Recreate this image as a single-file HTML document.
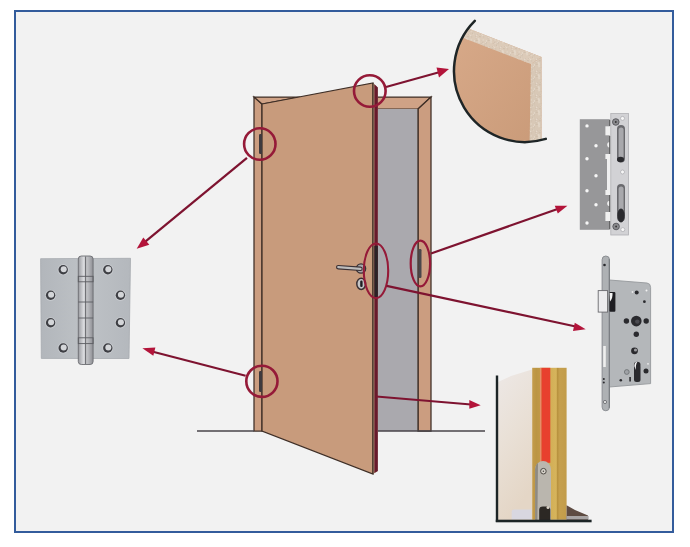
<!DOCTYPE html>
<html><head><meta charset="utf-8">
<style>
html,body{margin:0;padding:0;background:#fff;width:690px;height:547px;overflow:hidden;font-family:"Liberation Sans",sans-serif;}
svg{display:block;}
</style></head>
<body>
<svg width="690" height="547" viewBox="0 0 690 547">
<defs>
  <clipPath id="boardclip"><circle cx="525" cy="71" r="71"/></clipPath>
  <linearGradient id="boardface" x1="0" y1="0" x2="1" y2="1">
    <stop offset="0" stop-color="#d9ab8b"/>
    <stop offset="1" stop-color="#c99a78"/>
  </linearGradient>
  <linearGradient id="gold" x1="0" y1="0" x2="1" y2="0">
    <stop offset="0" stop-color="#c49c4c"/>
    <stop offset="0.12" stop-color="#bb9544"/>
    <stop offset="0.26" stop-color="#c29a48"/>
    <stop offset="0.5" stop-color="#d2ae56"/>
    <stop offset="0.7" stop-color="#d6b45c"/>
    <stop offset="0.73" stop-color="#b8923e"/>
    <stop offset="0.8" stop-color="#c6a04e"/>
    <stop offset="1" stop-color="#c29c4a"/>
  </linearGradient>
  <linearGradient id="cream" x1="0" y1="0" x2="0.3" y2="1">
    <stop offset="0" stop-color="#ede8e6"/>
    <stop offset="0.5" stop-color="#e9e0d6"/>
    <stop offset="1" stop-color="#e4d6c6"/>
  </linearGradient>
  <linearGradient id="hingeplate" x1="0" y1="0" x2="1" y2="0">
    <stop offset="0" stop-color="#b2b6bb"/>
    <stop offset="0.5" stop-color="#bec2c6"/>
    <stop offset="1" stop-color="#b4b8bd"/>
  </linearGradient>
  <linearGradient id="knuckle" x1="0" y1="0" x2="1" y2="0">
    <stop offset="0" stop-color="#9a9ba0"/>
    <stop offset="0.35" stop-color="#d8d9dc"/>
    <stop offset="0.7" stop-color="#b4b5b9"/>
    <stop offset="1" stop-color="#8e8f94"/>
  </linearGradient>
  <pattern id="speck" width="12" height="12" patternUnits="userSpaceOnUse"><circle cx="2.9" cy="6.5" r="0.67" fill="#ccbba8"/><circle cx="5.7" cy="7.0" r="0.66" fill="#d0c0ae"/><circle cx="5.6" cy="6.6" r="0.70" fill="#e8ddd0"/><circle cx="5.6" cy="10.0" r="0.46" fill="#e6dbcd"/><circle cx="10.3" cy="2.8" r="0.65" fill="#e8ddd0"/><circle cx="6.3" cy="8.9" r="0.36" fill="#d0c0ae"/><circle cx="11.5" cy="0.5" r="0.63" fill="#d0c0ae"/><circle cx="3.2" cy="7.1" r="0.59" fill="#e6dbcd"/><circle cx="11.1" cy="4.7" r="0.69" fill="#e6dbcd"/><circle cx="1.6" cy="4.4" r="0.35" fill="#d0c0ae"/><circle cx="2.6" cy="11.6" r="0.61" fill="#e6dbcd"/><circle cx="10.3" cy="5.1" r="0.53" fill="#e6dbcd"/><circle cx="6.4" cy="4.9" r="0.66" fill="#e8ddd0"/><circle cx="8.2" cy="11.1" r="0.70" fill="#ccbba8"/><circle cx="8.1" cy="2.0" r="0.69" fill="#ccbba8"/><circle cx="10.9" cy="6.8" r="0.55" fill="#e8ddd0"/><circle cx="11.9" cy="3.2" r="0.33" fill="#d0c0ae"/><circle cx="10.2" cy="11.9" r="0.44" fill="#d0c0ae"/><circle cx="0.8" cy="10.8" r="0.42" fill="#d0c0ae"/><circle cx="9.2" cy="10.5" r="0.54" fill="#d0c0ae"/><circle cx="9.1" cy="4.5" r="0.52" fill="#ccbba8"/><circle cx="11.1" cy="3.3" r="0.70" fill="#e8ddd0"/><circle cx="3.7" cy="0.9" r="0.68" fill="#d0c0ae"/><circle cx="11.7" cy="3.5" r="0.36" fill="#ccbba8"/><circle cx="0.5" cy="10.4" r="0.44" fill="#ccbba8"/><circle cx="1.7" cy="10.3" r="0.48" fill="#e6dbcd"/><circle cx="6.2" cy="7.7" r="0.55" fill="#d0c0ae"/><circle cx="11.3" cy="6.1" r="0.55" fill="#e6dbcd"/><circle cx="8.6" cy="11.2" r="0.69" fill="#e6dbcd"/><circle cx="6.3" cy="6.6" r="0.62" fill="#d0c0ae"/><circle cx="11.8" cy="3.8" r="0.55" fill="#e6dbcd"/><circle cx="7.6" cy="0.7" r="0.49" fill="#ccbba8"/><circle cx="8.2" cy="4.2" r="0.60" fill="#ccbba8"/><circle cx="0.3" cy="0.7" r="0.69" fill="#d0c0ae"/><circle cx="3.0" cy="5.5" r="0.37" fill="#ccbba8"/><circle cx="2.2" cy="9.1" r="0.42" fill="#ccbba8"/><circle cx="4.5" cy="9.3" r="0.69" fill="#d0c0ae"/><circle cx="8.2" cy="1.6" r="0.56" fill="#e8ddd0"/><circle cx="3.2" cy="3.9" r="0.56" fill="#e6dbcd"/><circle cx="1.2" cy="7.2" r="0.57" fill="#ccbba8"/></pattern>
</defs>

<!-- background + border -->
<rect x="0" y="0" width="690" height="547" fill="#ffffff"/>
<rect x="15" y="11" width="658" height="521" fill="#f2f2f2" stroke="#335c9c" stroke-width="2"/>

<!-- ===== DOOR ===== -->
<!-- frame left column -->
<polygon points="254,97 262,104 262,431 254,431" fill="#cb9d80" stroke="#3e2e26" stroke-width="1.25"/>
<!-- frame top left wedge -->
<polygon points="254,97 300,97 262,104" fill="#cfa286" stroke="#3e2e26" stroke-width="1.25"/>
<!-- frame top right -->
<polygon points="377,97 431,97 418,109 377,109" fill="#cfa286" stroke="#3e2e26" stroke-width="1.25"/>
<!-- frame right column -->
<polygon points="418,109 431,97 431,431 418,431" fill="#cb9d80" stroke="#3e2e26" stroke-width="1.25"/>
<!-- gray opening -->
<rect x="378" y="109" width="40" height="322" fill="#aaa9ae"/>
<line x1="418" y1="109" x2="418" y2="431" stroke="#3e2e26" stroke-width="1.25"/>
<!-- floor lines -->
<line x1="197" y1="431" x2="254" y2="431" stroke="#48444a" stroke-width="1.6"/>
<line x1="378" y1="431" x2="485" y2="431" stroke="#48444a" stroke-width="1.6"/>
<!-- door leaf -->
<polygon points="262,104 373,83 373,474 262,431" fill="#c89b7c" stroke="#3e2e26" stroke-width="1.25"/>
<!-- door edge thickness -->
<polygon points="373,83 377.8,87.5 377.8,471 373,474" fill="#b49478"/>
<polygon points="374.4,84.3 377.8,87.5 377.8,471 374.4,473" fill="#681a2c"/>
<line x1="373" y1="83" x2="373" y2="474" stroke="#3e2e26" stroke-width="1.1"/>
<rect x="374.4" y="246" width="3.4" height="51" fill="#2a2226"/>
<!-- hinges on door -->
<rect x="259" y="134" width="3" height="20" rx="1.2" fill="#3e3a3e"/>
<rect x="259" y="371" width="3" height="21" rx="1.2" fill="#3e3a3e"/>
<!-- strike slot on frame -->
<rect x="418.5" y="249" width="3" height="29" rx="1.2" fill="#4a474b"/>
<!-- handle -->
<circle cx="361" cy="268.5" r="4.6" fill="#a8a6aa" stroke="#3a3034" stroke-width="1.4"/>
<line x1="338.2" y1="267.2" x2="360.5" y2="268.8" stroke="#3a3034" stroke-width="4.4" stroke-linecap="round"/>
<line x1="338.2" y1="267.2" x2="360.5" y2="268.8" stroke="#bdbcbc" stroke-width="2.2" stroke-linecap="round"/>
<ellipse cx="361.2" cy="283.8" rx="4.4" ry="5.6" fill="#c4c4c6" stroke="#3a3034" stroke-width="1.5"/>
<rect x="360.2" y="280.6" width="2.4" height="6.5" rx="1.1" fill="#1e1e22"/>

<!-- ===== RED CIRCLES + ARROWS ===== -->
<g fill="none" stroke="#951a38" stroke-width="2.6">
  <circle cx="369.8" cy="91" r="15.8"/>
  <circle cx="259.8" cy="144" r="15.7"/>
  <circle cx="261.9" cy="381.3" r="15.6"/>
  <ellipse cx="376" cy="270.8" rx="12.2" ry="27.3" stroke-width="2.1"/>
  <ellipse cx="420.4" cy="263.5" rx="9.7" ry="22.9" stroke-width="2.2"/>
</g>
<g stroke="#7e1330" stroke-width="2.2" fill="none">
  <line x1="386" y1="87" x2="440" y2="72"/>
  <line x1="247" y1="157.8" x2="145" y2="241.8"/>
  <line x1="245.6" y1="375.8" x2="152" y2="351.5"/>
  <line x1="431" y1="253.5" x2="559" y2="208.5"/>
  <line x1="386.6" y1="285.8" x2="578" y2="327"/>
  <line x1="376.3" y1="396.5" x2="471" y2="404.5"/>
</g>
<g fill="#b3143a">
  <polygon points="449,69 436.5,67.5 439,77.5"/>
  <polygon points="136.7,248.7 143.3,237.4 149.3,244.8"/>
  <polygon points="142.4,348.3 155.4,347.4 153.3,355.7"/>
  <polygon points="567.4,205.7 554.8,205.7 557.8,213.5"/>
  <polygon points="585.7,329.3 574.8,322.8 573,331"/>
  <polygon points="480.7,405.2 469.3,400 469.3,408.7"/>
</g>

<!-- ===== BOARD DETAIL ===== -->
<g clip-path="url(#boardclip)">
  <polygon points="440,15 471,29.5 541.5,57 541.5,150 440,150" fill="url(#boardface)"/>
  <!-- top strip -->
  <polygon points="440,15 471,29.5 541.5,57 531,64 466,39 440,27" fill="#dccbb9"/>
  <polygon points="440,15 471,29.5 541.5,57 531,64 466,39 440,27" fill="url(#speck)"/>
  <!-- right strip -->
  <polygon points="531,64 541.5,57 541.5,150 529.5,150" fill="#d8c8b6"/>
  <polygon points="531,64 541.5,57 541.5,150 529.5,150" fill="url(#speck)"/>
</g>
<path d="M474.8,20.8 A71,71 0 0 0 545.8,138.9" fill="none" stroke="#1e2526" stroke-width="2.5" stroke-linecap="round"/>

<!-- ===== HINGE ===== -->
<polygon points="40.6,258.7 130.5,258.3 129,358.5 41.3,358.4" fill="url(#hingeplate)" stroke="#a6aaae" stroke-width="0.8"/>
<rect x="78.3" y="256" width="14.8" height="108.5" rx="3" fill="url(#knuckle)" stroke="#6c6d72" stroke-width="0.9"/>
<g stroke="#5c5d62" fill="none" stroke-width="0.9">
  <line x1="85.6" y1="256.5" x2="85.6" y2="364"/>
  <rect x="78.3" y="276.3" width="14.8" height="5.5"/>
  <rect x="78.3" y="337.8" width="14.8" height="5.8"/>
  <line x1="78.3" y1="302" x2="93.1" y2="302"/>
  <line x1="78.3" y1="318" x2="93.1" y2="318"/>
</g>
<circle cx="63.2" cy="269.7" r="5.6" fill="#c8cbcf"/>
<circle cx="63.2" cy="269.7" r="4.7" fill="#3e3f44"/>
<circle cx="63.7" cy="269.2" r="3" fill="#d4d6d9"/>
<circle cx="50.6" cy="295.3" r="5.6" fill="#c8cbcf"/>
<circle cx="50.6" cy="295.3" r="4.7" fill="#3e3f44"/>
<circle cx="51.1" cy="294.8" r="3" fill="#d4d6d9"/>
<circle cx="50.6" cy="322.8" r="5.6" fill="#c8cbcf"/>
<circle cx="50.6" cy="322.8" r="4.7" fill="#3e3f44"/>
<circle cx="51.1" cy="322.3" r="3" fill="#d4d6d9"/>
<circle cx="63.2" cy="348" r="5.6" fill="#c8cbcf"/>
<circle cx="63.2" cy="348" r="4.7" fill="#3e3f44"/>
<circle cx="63.7" cy="347.5" r="3" fill="#d4d6d9"/>
<circle cx="107.8" cy="269.7" r="5.6" fill="#c8cbcf"/>
<circle cx="107.8" cy="269.7" r="4.7" fill="#3e3f44"/>
<circle cx="108.3" cy="269.2" r="3" fill="#d4d6d9"/>
<circle cx="120.4" cy="295.3" r="5.6" fill="#c8cbcf"/>
<circle cx="120.4" cy="295.3" r="4.7" fill="#3e3f44"/>
<circle cx="120.9" cy="294.8" r="3" fill="#d4d6d9"/>
<circle cx="120.4" cy="322.8" r="5.6" fill="#c8cbcf"/>
<circle cx="120.4" cy="322.8" r="4.7" fill="#3e3f44"/>
<circle cx="120.9" cy="322.3" r="3" fill="#d4d6d9"/>
<circle cx="107.8" cy="348" r="5.6" fill="#c8cbcf"/>
<circle cx="107.8" cy="348" r="4.7" fill="#3e3f44"/>
<circle cx="108.3" cy="347.5" r="3" fill="#d4d6d9"/>

<!-- ===== STRIKE PLATE ===== -->
<rect x="579.8" y="119.2" width="30" height="110.6" fill="#979799"/>
<g fill="#f6f6f6">
  <circle cx="587" cy="125.9" r="1.7"/>
  <circle cx="596" cy="145.8" r="1.7"/>
  <circle cx="587" cy="158.8" r="1.7"/>
  <circle cx="596" cy="175.8" r="1.7"/>
  <circle cx="587" cy="190.8" r="1.7"/>
  <circle cx="596" cy="204.8" r="1.7"/>
  <circle cx="587" cy="223" r="1.7"/>
</g>
<g fill="#f0f0f0">
  <rect x="605.4" y="126.3" width="5" height="9"/>
  <circle cx="610" cy="144.7" r="2.8"/>
  <rect x="605.4" y="154" width="5" height="5"/>
  <rect x="607" y="159" width="3.5" height="33"/>
  <rect x="605.4" y="190" width="5" height="5"/>
  <circle cx="610" cy="203.5" r="2.8"/>
  <rect x="605.4" y="212" width="5" height="9"/>
</g>
<rect x="609.2" y="120" width="1.3" height="6" fill="#555"/>
<rect x="609.2" y="136" width="1.3" height="18" fill="#555"/>
<rect x="609.2" y="195" width="1.3" height="17" fill="#555"/>
<rect x="609.2" y="221" width="1.3" height="8" fill="#555"/>
<rect x="610.8" y="113.5" width="17.8" height="121.5" fill="#d2d2d5" stroke="#b0b0b4" stroke-width="0.8"/>
<rect x="617" y="125" width="8" height="37.5" rx="4" fill="#6a6a6e"/>
<rect x="618.6" y="127.5" width="5" height="31" rx="2.5" fill="#a9a9ad"/>
<ellipse cx="620.5" cy="159.5" rx="3.5" ry="2.8" fill="#2a2a2e"/>
<rect x="617" y="184" width="8" height="37.5" rx="4" fill="#6a6a6e"/>
<rect x="618.6" y="186.5" width="5" height="31" rx="2.5" fill="#a9a9ad"/>
<ellipse cx="621" cy="215.5" rx="3.6" ry="7" fill="#2a2a2e"/>
<circle cx="615.8" cy="122" r="3.3" fill="#8a8a8e" stroke="#555559" stroke-width="0.9"/>
<circle cx="615.8" cy="122" r="0.9" fill="#333"/>
<circle cx="622.5" cy="118.4" r="2" fill="#f6f6f6" stroke="#a0a0a4" stroke-width="0.6"/>
<circle cx="616.1" cy="226.5" r="3.3" fill="#8a8a8e" stroke="#555559" stroke-width="0.9"/>
<circle cx="616.1" cy="226.5" r="0.9" fill="#333"/>
<circle cx="622.8" cy="229.6" r="2" fill="#f6f6f6" stroke="#a0a0a4" stroke-width="0.6"/>
<circle cx="622.5" cy="172" r="2" fill="#f6f6f6" stroke="#a0a0a4" stroke-width="0.6"/>

<!-- ===== MORTISE LOCK ===== -->
<path d="M609.4,280 L647,283 Q650.6,283.4 650.6,287.5 L650.6,383.6 L609.4,387 Z" fill="#b4b7ba" stroke="#95989c" stroke-width="0.9"/>
<rect x="602.1" y="256" width="7.4" height="154.8" rx="3.7" fill="#aeb1b4" stroke="#85888c" stroke-width="0.9"/>
<line x1="609.2" y1="259" x2="609.2" y2="408" stroke="#74777b" stroke-width="0.9"/>
<rect x="609.4" y="292" width="6" height="19.8" rx="1" fill="#1e1e22"/>
<path d="M609.6,293 L612.5,293 Q613,298 610,301.5 Z" fill="#f4f4f4"/>
<rect x="598.2" y="290.6" width="9.4" height="21.5" fill="#ececee" stroke="#6a6a6e" stroke-width="0.9"/>
<g fill="#2a2a2e">
  <circle cx="636.7" cy="292.5" r="2"/>
  <circle cx="644.4" cy="301.7" r="1.4"/>
  <circle cx="636.3" cy="321.1" r="5.3"/>
  <circle cx="626.4" cy="321" r="2.7"/>
  <circle cx="646.2" cy="321" r="2.7"/>
  <circle cx="636.3" cy="334.3" r="2.7"/>
  <circle cx="634.5" cy="350.8" r="3.4"/>
  <circle cx="637.2" cy="365" r="3.3"/>
  <rect x="634" y="365" width="6.5" height="17" rx="2.5"/>
  <circle cx="646" cy="371" r="2.5"/>
  <circle cx="620.8" cy="380.3" r="1.3"/>
  <rect x="629.3" y="377" width="1.6" height="4.5"/>
  <circle cx="603.8" cy="379" r="1"/>
  <circle cx="603.8" cy="382.5" r="1"/>
  <circle cx="604.5" cy="265" r="1.3"/>
</g>
<circle cx="637.3" cy="321.6" r="2.2" fill="#4a4a50"/>
<path d="M634.3,366 Q634.6,361.8 637.5,361.8 Q635.6,364 635.8,370 Z" fill="#f4f4f6"/>
<circle cx="635.5" cy="350" r="1.6" fill="#9a9a9e"/>
<circle cx="626.8" cy="372" r="2.4" fill="#9fa2a6" stroke="#6a6d70" stroke-width="0.8"/>
<circle cx="632.5" cy="292" r="0.9" fill="#e8e8ea"/>
<circle cx="646.5" cy="290.5" r="1" fill="#f2f2f2"/>
<circle cx="648" cy="363.8" r="0.9" fill="#eeeeee"/>
<rect x="603.2" y="346" width="2.6" height="21" fill="#eeeeee"/>
<circle cx="605" cy="402" r="1.6" fill="#e6e6e6" stroke="#55565a" stroke-width="0.7"/>

<!-- ===== DOOR EDGE DETAIL ===== -->
<polygon points="498,382 511,376 532,369.5 532,520 498,520" fill="url(#cream)"/>
<rect x="532.2" y="367.8" width="34.4" height="152" fill="url(#gold)"/>

<rect x="540" y="367.8" width="1.6" height="95" fill="#f08a70" opacity="0.8"/>
<rect x="541.5" y="367.8" width="8.8" height="95" fill="#e8402e"/>
<polygon points="566.6,505.3 575,510 588,515.6 588,520 566.6,520" fill="#5e4b42"/>
<rect x="566.6" y="516" width="22" height="3.5" fill="#a8a4a4"/>
<path d="M511.7,519.5 L511.7,512 Q511.7,509.4 514,509.4 L531.7,509.4 L531.7,519.5 Z" fill="#d8d7e0"/>
<path d="M535.1,520 L535.1,469 A7.95,7.95 0 0 1 551,469 L551,520 Z" fill="#bab6ae"/>
<path d="M535.1,520 L535.1,469 A7.95,7.95 0 0 1 538,462.8 L537.4,520 Z" fill="#8e8a82"/>
<circle cx="543.4" cy="471.2" r="2.8" fill="#d8d4cc" stroke="#4e4a45" stroke-width="1"/>
<circle cx="543.4" cy="471.2" r="0.8" fill="#4e4a45"/>
<path d="M539.2,520 L539.2,510 Q539.2,506.6 543,506.6 L547,506.6 Q550.3,506.6 550.3,510 L550.3,520 Z" fill="#2c2824"/>
<circle cx="548" cy="507.5" r="1.5" fill="#d8d0c4"/>
<rect x="495.8" y="375.5" width="2.4" height="146.5" fill="#1c2426"/>
<rect x="495.8" y="519.7" width="95.8" height="2.6" fill="#1c2426"/>

</svg>
</body></html>
